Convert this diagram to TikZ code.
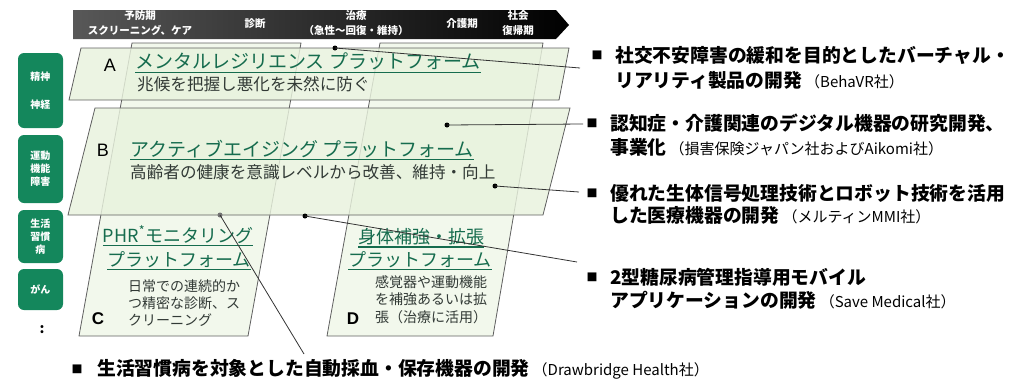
\documentclass[tikz,border=0pt]{standalone}
\usepackage{fontspec}
\setmainfont{Noto Sans CJK JP}
\newfontfamily\lat{Liberation Sans}
\definecolor{hdrL}{RGB}{88,88,88}
\definecolor{plat}{RGB}{232,242,221}
\definecolor{colf}{RGB}{242,248,236}
\definecolor{edgec}{RGB}{95,95,95}
\definecolor{ttl}{RGB}{22,108,78}
\definecolor{subc}{RGB}{50,58,54}
\definecolor{lgreen}{RGB}{20,135,92}
\newcommand\ulx[1]{\setbox0\hbox{#1}\rlap{\color{ttl}\rule[-4pt]{\wd0}{1.3pt}}\box0}
\newcommand\fs[2]{\fontsize{#1}{#2}\selectfont}
\newcommand\parn{\fs{15}{18}\mdseries}
\begin{document}
\begin{tikzpicture}[x=1pt,y=-1pt,
  hdr/.style={text=white,font=\fs{10.5}{15}\bfseries,align=center,inner sep=0},
  lbox/.style={fill=lgreen,rounded corners=6pt,minimum width=45pt,text=white,font=\fs{10}{13}\bfseries,align=center,inner sep=0},
  platf/.style={fill=plat,fill opacity=0.82,draw=edgec,line width=0.8pt,draw opacity=1},
  colbox/.style={fill=colf,draw=edgec,line width=0.8pt},
  letter/.style={font=\lat\fs{18}{20},inner sep=0},
  ptitle/.style={text=ttl,font=\fs{19}{22},inner sep=0,anchor=west},
  psub/.style={text=subc,font=\fs{16.6}{20},inner sep=0,anchor=west},
  cbody/.style={text=subc,font=\fs{14}{17},inner sep=0,anchor=west},
  rtext/.style={font=\fs{18.8}{22}\bfseries,inner sep=0,anchor=west},
  bul/.style={font=\fs{11}{13},inner sep=0},
  dot/.style={circle,fill=black,inner sep=0,minimum size=5pt},
  conn/.style={draw=black!80,line width=0.8pt}]
\useasboundingbox (0,0) rectangle (1009,381);
% header arrow
\shade[left color=hdrL,right color=black] (73,10) -- (556,10) -- (569,25) -- (556,39) -- (73,39) -- cycle;
\node[hdr] (h1) at (140,23.5) {予防期\\スクリーニング、ケア};
\node[hdr] (h2) at (255,23.5) {診断};
\node[hdr] (h3) at (356,23.5) {治療\\（急性～回復・維持）};
\node[hdr] (h4) at (462,23.5) {介護期};
\node[hdr] (h5) at (518,23.5) {社会\\復帰期};
% columns
\path[colbox] (132,43) -- (301,43) -- (248,336) -- (79,336) -- cycle;
\path[colbox] (380,43) -- (543,43) -- (493,336) -- (327,336) -- cycle;
% platforms
\path[platf] (81,48) -- (569,48) -- (559,100) -- (69,100) -- cycle;
\path[platf] (95,108) -- (570,108) -- (543,215) -- (68,215) -- cycle;
% left labels
\node[lbox,minimum height=75pt] (g1) at (40.5,90.5) {精神\\[15pt]神経};
\node[lbox,minimum height=68pt] (g2) at (40.5,169) {運動\\機能\\障害};
\node[lbox,minimum height=53pt] (g3) at (40.5,236.5) {生活\\習慣\\病};
\node[lbox,minimum height=41pt] (g4) at (40.5,289.5) {がん};
\node[font=\fs{14}{16}\bfseries,inner sep=0] (gd) at (42,330) {:};
% platform A
\node[letter] (la) at (110,65) {A};
\node[ptitle] (ta) at (135,63) {\ulx{メンタルレジリエンス プラットフォーム}};
\node[psub] (sa) at (137,84) {兆候を把握し悪化を未然に防ぐ};
% platform B
\node[letter] (lb) at (103,150) {B};
\node[ptitle] (tb) at (130,150) {\ulx{アクティブエイジング プラットフォーム}};
\node[psub] (sb) at (130,172) {高齢者の健康を意識レベルから改善、維持・向上};
% C
\node[letter,font=\lat\bfseries\fs{17}{20}] (lc) at (98,319) {C};
\node[ptitle,anchor=center,font=\fs{18}{22}] (tc1) at (178,236) {\ulx{PHR\textsuperscript{*}モニタリング}};
\node[ptitle,anchor=center,font=\fs{18}{22}] (tc2) at (179,261) {\ulx{プラットフォーム}};
\node[cbody] (c1) at (128,286) {日常での連続的か};
\node[cbody] (c2) at (128,303) {つ精密な診断、ス};
\node[cbody] (c3) at (128,320) {クリーニング};
% D
\node[letter,font=\lat\bfseries\fs{17}{20}] (ld) at (353,319) {D};
\node[ptitle,anchor=center,font=\fs{18}{22}] (td1) at (421,238) {\ulx{身体補強・拡張}};
\node[ptitle,anchor=center,font=\fs{18}{22}] (td2) at (420,261) {\ulx{プラットフォーム}};
\node[cbody] (dd1) at (375,282) {感覚器や運動機能};
\node[cbody] (dd2) at (375,299) {を補強あるいは拡};
\node[cbody] (dd3) at (375,317) {張（治療に活用）};
% right texts
\node[bul] (b1) at (597,55) {■};
\node[rtext] (r11) at (615,55) {社交不安障害の緩和を目的としたバーチャル・};
\node[rtext] (r12) at (615,80) {リアリティ製品の開発\,{\parn（BehaVR社）}};
\node[bul] (b2) at (592,123) {■};
\node[rtext] (r21) at (610,123) {認知症・介護関連のデジタル機器の研究開発、};
\node[rtext] (r22) at (610,147) {事業化\,{\parn（損害保険ジャパン社およびAikomi社）}};
\node[bul] (b3) at (592,193) {■};
\node[rtext] (r31) at (610,193) {優れた生体信号処理技術とロボット技術を活用};
\node[rtext] (r32) at (610,215) {した医療機器の開発\,{\parn（メルティンMMI社）}};
\node[bul] (b4) at (592,277) {■};
\node[rtext] (r41) at (610,277) {2型糖尿病管理指導用モバイル};
\node[rtext] (r42) at (610,300) {アプリケーションの開発\,{\parn（Save Medical社）}};
\node[bul] (b5) at (77,369) {■};
\node[rtext] (r51) at (97,369) {生活習慣病を対象とした自動採血・保存機器の開発\,{\parn（Drawbridge Health社）}};
% connectors
\node[dot] (d1) at (335,48) {};
\node[dot] (d2) at (447,125) {};
\node[dot] (d3) at (495,186) {};
\node[dot] (d4) at (305,216) {};
\node[dot,fill=black!55] (d5) at (220,215) {};
\coordinate (e1) at (580,68);
\coordinate (e2) at (583,124);
\coordinate (e3) at (579,192);
\coordinate (e4) at (577,262);
\coordinate (e5) at (304,354);
\draw[conn] (d1.center) -- (e1);
\draw[conn] (d2.center) -- (e2);
\draw[conn] (d3.center) -- (e3);
\draw[conn] (d4.center) -- (e4);
\draw[conn] (d5.center) -- (e5);
\end{tikzpicture}
\end{document}
